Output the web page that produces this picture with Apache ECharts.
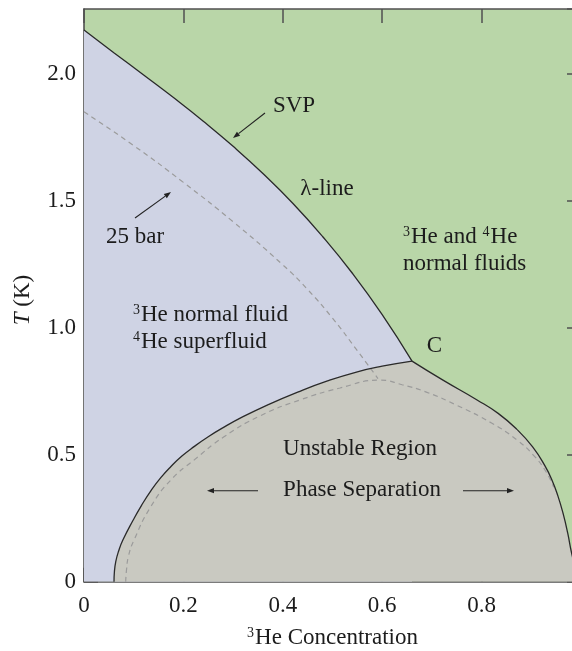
<!DOCTYPE html>
<html><head><meta charset="utf-8">
<script src="https://cdn.jsdelivr.net/npm/echarts@6/dist/echarts.min.js"></script>
<style>html,body{margin:0;padding:0;background:#fff;overflow:hidden}#c{width:572px;height:651px}</style>
</head><body><div id="c"></div>
<script>
// ---- data (x = 3He concentration, T in K) ----
const xTickLabels = ['0', '0.2', '0.4', '0.6', '0.8', '1'];
const yTickLabels = ['0', '0.5', '1.0', '1.5', '2.0'];

// lambda line at SVP (solid), ends at tricritical point C
const lambdaX = [0, 0.06, 0.12, 0.18, 0.24, 0.30, 0.36, 0.42, 0.48, 0.54, 0.60, 0.66];
const lambdaT = [2.173, 2.084, 1.996, 1.907, 1.814, 1.715, 1.608, 1.491, 1.360, 1.215, 1.052, 0.869];

// phase-separation curve at SVP, left branch (solid)
const domeLX = [0.0604, 0.0612, 0.0640, 0.0695, 0.0782, 0.0990, 0.1155, 0.1355, 0.1545, 0.1745, 0.1970, 0.2213, 0.25, 0.28, 0.32, 0.37, 0.43, 0.49, 0.55, 0.60, 0.66];
const domeLT = [0.000, 0.040, 0.080, 0.120, 0.164, 0.243, 0.300, 0.361, 0.410, 0.453, 0.495, 0.532, 0.571, 0.607, 0.650, 0.697, 0.747, 0.791, 0.827, 0.849, 0.869];
// right branch (solid)
const domeRX = [0.660, 0.7223, 0.7909, 0.8333, 0.8705, 0.9027, 0.9275, 0.9423, 0.9535, 0.9642, 0.9732, 0.9811, 0.989, 1.000];
const domeRT = [0.869, 0.794, 0.716, 0.663, 0.601, 0.531, 0.456, 0.397, 0.338, 0.267, 0.192, 0.113, 0.055, 0.000];

// 25 bar curves (dashed)
const lambda25X = [0, 0.1, 0.2, 0.3, 0.4, 0.45, 0.5, 0.55, 0.5915];
const lambda25T = [1.851, 1.718, 1.573, 1.418, 1.248, 1.151, 1.038, 0.910, 0.800];
const dome25X = [0.0839, 0.0855, 0.0895, 0.1006, 0.1342, 0.1744, 0.2213, 0.2817, 0.3541, 0.4346, 0.5151, 0.5956, 0.64, 0.69, 0.75, 0.82, 0.87, 0.905, 0.93, 0.945];
const dome25T = [0.000, 0.046, 0.101, 0.164, 0.295, 0.400, 0.479, 0.571, 0.653, 0.716, 0.763, 0.794, 0.776, 0.746, 0.695, 0.625, 0.560, 0.497, 0.432, 0.372];

const FONT = 'Liberation Serif';
const TXT = '#1c1c1c';
const AX = '#505050';

const pts = (xs, ys) => xs.map((x, i) => [x, ys[i]]);

function xFmt(v) {
  const i = Math.round(v / 0.2);
  return Math.abs(v - i * 0.2) < 1e-6 && xTickLabels[i] !== undefined ? xTickLabels[i] : '';
}
function yFmt(v) {
  const i = Math.round(v / 0.5);
  return Math.abs(v - i * 0.5) < 1e-6 && yTickLabels[i] !== undefined ? yTickLabels[i] : '';
}

const chart = echarts.init(document.getElementById('c'), null, {renderer: 'canvas'});

const axisLine = () => ({show: true, onZero: false, lineStyle: {color: AX, width: 1.6}});
const axisTick = () => ({show: true, inside: true, length: 14, lineStyle: {color: AX, width: 1.5}});
const lbl = () => ({fontFamily: FONT, fontSize: 23, color: TXT});

function arrow(x1, y1, x2, y2) {
  const ang = Math.atan2(y2 - y1, x2 - x1);
  const L = 7, W = 2.6;
  const bx = x2 - L * Math.cos(ang), by = y2 - L * Math.sin(ang);
  const nx = -Math.sin(ang), ny = Math.cos(ang);
  return [
    {type: 'line', shape: {x1, y1, x2: bx, y2: by}, style: {stroke: '#222', lineWidth: 1.1}, z: 100},
    {type: 'polygon', shape: {points: [[x2, y2], [bx + nx * W, by + ny * W], [bx - nx * W, by - ny * W]]}, style: {fill: '#222'}, z: 100}
  ];
}

const supRich = {s: {fontFamily: FONT, fontSize: 14, verticalAlign: 'top', fill: TXT, padding: [0, 1, 0, 0]}};
function txt(text, x, y, align) {
  return {
    type: 'text', x, y, z: 100,
    style: {text, fontFamily: FONT, fontSize: 23, fill: TXT, align: align || 'center', verticalAlign: 'middle', rich: supRich}
  };
}

const SM = 0.5;
const option = {
  animation: false,
  backgroundColor: '#ffffff',
  grid: {left: 84, top: 9, width: 497, height: 572.7, containLabel: false, outerBoundsMode: 'none',
         show: true, backgroundColor: '#b9d6a8', borderWidth: 0},
  xAxis: [
    {type: 'value', min: 0, max: 1, interval: 0.2, position: 'bottom',
     axisLine: axisLine(), axisTick: axisTick(), splitLine: {show: false},
     axisLabel: Object.assign({formatter: xFmt, margin: 13}, lbl()),
     name: '{s|3}He Concentration', nameLocation: 'middle', nameGap: 45,
     nameTextStyle: Object.assign({rich: supRich}, lbl())},
    {type: 'value', min: 0, max: 1, interval: 0.2, position: 'top',
     axisLine: axisLine(), axisTick: axisTick(), splitLine: {show: false}, axisLabel: {show: false}}
  ],
  yAxis: [
    {type: 'value', min: 0, max: 2.256, interval: 0.5, position: 'left',
     axisLine: axisLine(), axisTick: axisTick(), splitLine: {show: false},
     axisLabel: Object.assign({formatter: yFmt, margin: 8, showMaxLabel: false}, lbl())},
    {type: 'value', min: 0, max: 2.256, interval: 0.5, position: 'right',
     axisLine: axisLine(), axisTick: axisTick(), splitLine: {show: false}, axisLabel: {show: false}}
  ],
  series: [
    {type: 'line', data: pts(lambdaX, lambdaT), symbol: 'none', smooth: SM,
     lineStyle: {width: 0, opacity: 0}, areaStyle: {color: '#cfd3e4', opacity: 1}},
    {type: 'line', data: pts(domeLX, domeLT), symbol: 'none', smooth: SM,
     lineStyle: {width: 0, opacity: 0}, areaStyle: {color: '#c9c9c1', opacity: 1}},
    {type: 'line', data: pts(domeRX, domeRT), symbol: 'none', smooth: SM,
     lineStyle: {width: 0, opacity: 0}, areaStyle: {color: '#c9c9c1', opacity: 1}},
    {type: 'line', data: pts(lambda25X, lambda25T), symbol: 'none', smooth: SM,
     lineStyle: {color: '#9b9b9b', width: 1.2, type: [5, 4]}},
    {type: 'line', data: pts(dome25X, dome25T), symbol: 'none', smooth: SM,
     lineStyle: {color: '#9b9b9b', width: 1.2, type: [5, 4]}},
    {type: 'line', data: pts(lambdaX, lambdaT), symbol: 'none', smooth: SM,
     lineStyle: {color: '#2a2a2a', width: 1.3}},
    {type: 'line', data: pts(domeLX, domeLT), symbol: 'none', smooth: SM,
     lineStyle: {color: '#2a2a2a', width: 1.3}},
    {type: 'line', data: pts(domeRX, domeRT), symbol: 'none', smooth: SM,
     lineStyle: {color: '#2a2a2a', width: 1.3}}
  ],
  graphic: [
    txt('SVP', 294, 106),
    txt('λ-line', 327, 189),
    txt('25 bar', 135, 237),
    txt('{s|3}He normal fluid', 133, 315, 'left'),
    txt('{s|4}He superfluid', 133, 342, 'left'),
    txt('{s|3}He and {s|4}He', 403, 237, 'left'),
    txt('normal fluids', 403, 264, 'left'),
    txt('C', 434.5, 345.5),
    txt('Unstable Region', 360, 449),
    txt('Phase Separation', 362, 490),
    {type: 'text', x: 23, y: 300, rotation: Math.PI / 2, z: 100,
     style: {text: '{i|T} (K)', fontFamily: FONT, fontSize: 23, fill: TXT, align: 'center', verticalAlign: 'middle',
       rich: {i: {fontFamily: FONT, fontSize: 23, fontStyle: 'italic', fill: TXT}}}},
    ...arrow(265, 113, 233, 138),
    ...arrow(135, 218, 171, 192),
    ...arrow(258, 490.7, 207, 490.7),
    ...arrow(463, 490.7, 514, 490.7)
  ]
};
chart.setOption(option);
</script>
</body></html>
